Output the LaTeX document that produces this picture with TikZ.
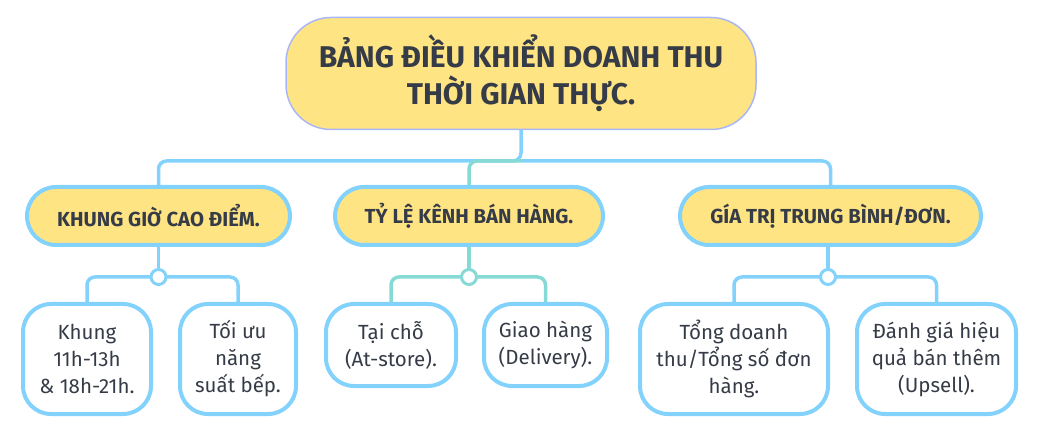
\documentclass[tikz,border=0pt]{standalone}
\usepackage{fontspec}
\setmainfont{Fira Sans}

\definecolor{padyellow}{HTML}{FFE483}
\definecolor{rootedge}{HTML}{A9B6F7}
\definecolor{skyedge}{HTML}{82D2FC}
\definecolor{tealedge}{HTML}{86DAD5}
\definecolor{inkgrey}{HTML}{363C47}

\tikzset{
  rootbox/.style={draw=rootedge, line width=1.5pt, fill=padyellow, rounded corners=45pt,
    minimum width=470pt, minimum height=112pt, align=center, text=inkgrey,
    font=\bfseries\fontsize{30}{37}\selectfont},
  topicbox/.style={draw=skyedge, line width=4pt, fill=padyellow, rounded corners=29pt,
    minimum height=58pt, text=inkgrey, font=\bfseries\fontsize{20.3}{24}\selectfont},
  leafbox/.style={draw=skyedge, line width=4pt, fill=white, rounded corners=28pt,
    align=center, text=inkgrey, font=\fontsize{20.5}{27}\selectfont},
  link/.style={draw=skyedge, line width=3.5pt, rounded corners=8pt},
  knot/.style={circle, draw=skyedge, line width=3pt, fill=white, minimum size=15pt, inner sep=0pt}
}

\begin{document}
\begin{tikzpicture}[x=1pt, y=-1pt]
  \useasboundingbox (0,0) rectangle (1039,430);

  % 1. Root and the three topics
  \node[rootbox] (board) at (521,73.5) {BẢNG ĐIỀU KHIỂN DOANH THU\\THỜI GIAN THỰC.};
  \node[topicbox, minimum width=263pt] (peak) at (158.5,216) {KHUNG GIỜ CAO ĐIỂM.};
  \node[topicbox, minimum width=268pt] (channel) at (469,216) {TỶ LỆ KÊNH BÁN HÀNG.};
  \node[topicbox, minimum width=301pt] (average) at (830.5,216) {GÍA TRỊ TRUNG BÌNH/ĐƠN.};

  % 2. The leaves
  \node[leafbox, minimum width=128pt, minimum height=110pt] (slot) at (87,359) {Khung\\11h-13h\\\& 18h-21h.};
  \node[leafbox, minimum width=116pt, minimum height=110pt] (kitchen) at (238,359) {Tối ưu\\năng\\suất bếp.};
  \node[leafbox, minimum width=130pt, minimum height=82pt] (store) at (391,345) {Tại chỗ\\(At-store).};
  \node[leafbox, minimum width=123pt, minimum height=82pt] (delivery) at (545.5,345) {Giao hàng\\(Delivery).};
  \node[leafbox, minimum width=188pt, minimum height=110pt] (ratio) at (734,359) {Tổng doanh\\thu/Tổng số đơn\\hàng.};
  \node[leafbox, minimum width=159pt, minimum height=110pt] (upsell) at (936.5,359) {Đánh giá hiệu\\quả bán thêm\\(Upsell).};

  % 3. Root to topics
  \coordinate (split) at (board.south |- 0,161);
  \draw[link] (board.south) -- (split) -| (peak.north);
  \draw[link] (split) -| (average.north);
  \draw[link, draw=tealedge] (split) -| (channel.north);

  % 4. Topics to leaves
  \coordinate (hubA) at (peak.south |- 0,277);
  \coordinate (hubB) at (channel.south |- 0,277);
  \coordinate (hubC) at (828,277);
  \draw[link] (slot.north) |- (hubA) -| (kitchen.north);
  \draw[link] (peak.south) -- (hubA);
  \draw[link, draw=tealedge] (store.north) |- (hubB) -| (delivery.north);
  \draw[link, draw=tealedge] (channel.south) -- (hubB);
  \draw[link] (ratio.north) |- (hubC) -| (upsell.north);
  \draw[link] (average.south -| hubC) -- (hubC);

  % 5. Junction knots
  \node[knot] (knotA) at (hubA) {};
  \node[knot, draw=tealedge] (knotB) at (hubB) {};
  \node[knot] (knotC) at (hubC) {};
\end{tikzpicture}
\end{document}
